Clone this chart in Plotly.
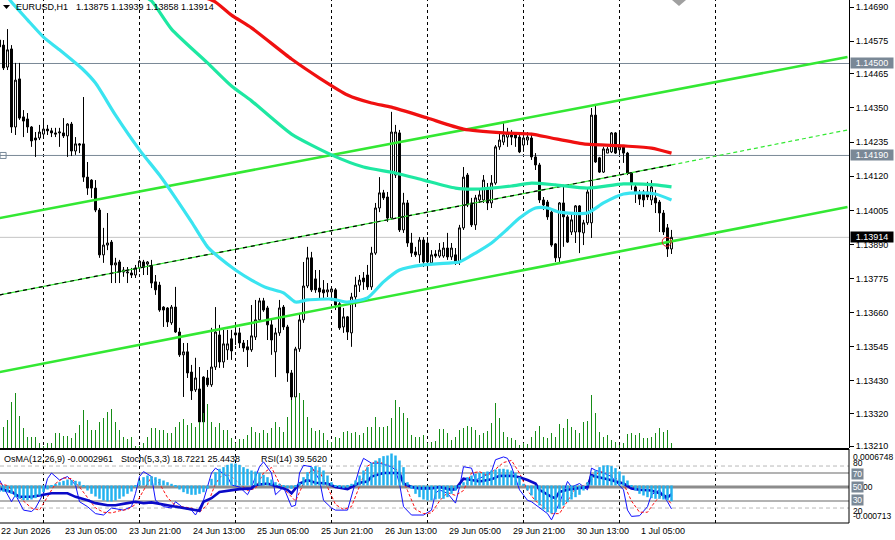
import plotly.graph_objects as go

# ---------------- data ----------------
bar_index = list(range(169))  # H1 bars from 22 Jun 13:00 to 1 Jul 13:00 (weekend skipped)

open_ = [1.14579,1.14562,1.14488,1.14549,1.14286,1.14448,1.14320,1.14313,1.14286,1.14249,
 1.14249,1.14262,1.14279,1.14273,1.14266,1.14266,1.14266,1.14256,1.14296,1.14205,
 1.14229,1.14229,1.14117,1.14107,1.14080,1.14006,1.13855,1.13888,1.13898,1.13821,
 1.13831,1.13804,1.13794,1.13794,1.13787,1.13811,1.13831,1.13824,1.13818,1.13764,
 1.13753,1.13679,1.13676,1.13626,1.13679,1.13595,1.13518,1.13528,1.13460,1.13400,
 1.13403,1.13443,1.13440,1.13417,1.13477,1.13585,1.13494,1.13535,1.13572,1.13592,
 1.13592,1.13558,1.13545,1.13535,1.13578,1.13636,1.13700,1.13676,1.13619,1.13528,
 1.13592,1.13679,1.13612,1.13457,1.13376,1.13538,1.13636,1.13750,1.13845,1.13774,
 1.13743,1.13737,1.13730,1.13730,1.13737,1.13690,1.13612,1.13646,1.13592,1.13713,
 1.13753,1.13777,1.13787,1.13747,1.13861,1.14013,1.14064,1.14050,1.13979,1.14124,
 1.14266,1.13939,1.14030,1.13895,1.13865,1.13855,1.13905,1.13895,1.13828,1.13858,
 1.13851,1.13851,1.13878,1.13848,1.13855,1.13831,1.13946,1.14124,1.14030,1.13956,
 1.14040,1.14040,1.14074,1.14030,1.14097,1.14219,1.14235,1.14252,1.14259,1.14259,
 1.14252,1.14225,1.14242,1.14249,1.14185,1.14158,1.14040,1.14033,1.13999,1.13892,
 1.13845,1.14030,1.13983,1.13932,1.13932,1.14020,1.13929,1.13963,1.13963,1.14326,
 1.14182,1.14134,1.14198,1.14202,1.14266,1.14209,1.14219,1.14198,1.14131,1.14084,
 1.14064,1.14067,1.14067,1.14040,1.14047,1.14033,1.13996,1.13946,1.13875]
high_ = [1.14586,1.14579,1.14616,1.14562,1.14502,1.14502,1.14343,1.14333,1.14289,1.14269,
 1.14293,1.14310,1.14293,1.14283,1.14283,1.14283,1.14316,1.14299,1.14303,1.14252,
 1.14232,1.14387,1.14168,1.14110,1.14107,1.14013,1.13946,1.13996,1.13905,1.13845,
 1.13838,1.13814,1.13814,1.13811,1.13821,1.13838,1.13838,1.13834,1.13838,1.13787,
 1.13764,1.13682,1.13679,1.13686,1.13747,1.13609,1.13558,1.13558,1.13484,1.13508,
 1.13477,1.13446,1.13467,1.13609,1.13679,1.13619,1.13602,1.13602,1.13602,1.13612,
 1.13609,1.13568,1.13568,1.13686,1.13703,1.13710,1.13710,1.13683,1.13636,1.13609,
 1.13703,1.13686,1.13619,1.13467,1.13545,1.13659,1.13831,1.13882,1.13865,1.13804,
 1.13804,1.13770,1.13760,1.13747,1.13743,1.13696,1.13676,1.13649,1.13727,1.13781,
 1.13787,1.13797,1.13821,1.13882,1.14030,1.14117,1.14074,1.14067,1.14337,1.14293,
 1.14276,1.14064,1.14040,1.13929,1.13882,1.13915,1.13915,1.13915,1.13871,1.13871,
 1.13895,1.13898,1.13929,1.13895,1.13878,1.13956,1.14151,1.14131,1.14047,1.14057,
 1.14074,1.14124,1.14097,1.14124,1.14225,1.14266,1.14299,1.14283,1.14276,1.14269,
 1.14266,1.14259,1.14269,1.14266,1.14198,1.14165,1.14050,1.14040,1.14006,1.13895,
 1.14033,1.14091,1.13989,1.13999,1.14023,1.14023,1.13973,1.14080,1.14350,1.14360,
 1.14185,1.14219,1.14219,1.14269,1.14269,1.14266,1.14225,1.14202,1.14134,1.14091,
 1.14074,1.14074,1.14101,1.14107,1.14074,1.14040,1.14006,1.13959,1.13939]
low_ = [1.14546,1.14478,1.14478,1.14266,1.14259,1.14310,1.14252,1.14266,1.14219,1.14185,
 1.14242,1.14249,1.14259,1.14252,1.14252,1.14219,1.14249,1.14185,1.14188,1.14192,
 1.14198,1.14101,1.14057,1.14047,1.13999,1.13845,1.13828,1.13871,1.13760,1.13760,
 1.13760,1.13781,1.13760,1.13777,1.13777,1.13797,1.13787,1.13787,1.13743,1.13720,
 1.13663,1.13612,1.13612,1.13619,1.13592,1.13511,1.13376,1.13440,1.13366,1.13393,
 1.13290,1.13290,1.13410,1.13410,1.13467,1.13474,1.13474,1.13501,1.13501,1.13551,
 1.13541,1.13528,1.13477,1.13528,1.13568,1.13629,1.13663,1.13568,1.13518,1.13443,
 1.13582,1.13602,1.13427,1.13332,1.13366,1.13528,1.13626,1.13743,1.13730,1.13727,
 1.13703,1.13703,1.13713,1.13703,1.13669,1.13602,1.13592,1.13568,1.13545,1.13679,
 1.13730,1.13737,1.13737,1.13737,1.13855,1.13999,1.14040,1.13966,1.13973,1.14114,
 1.13932,1.13929,1.13882,1.13848,1.13848,1.13828,1.13814,1.13804,1.13821,1.13845,
 1.13845,1.13845,1.13838,1.13838,1.13821,1.13821,1.13939,1.14016,1.13949,1.13939,
 1.14030,1.14030,1.14006,1.14013,1.14091,1.14209,1.14225,1.14219,1.14225,1.14219,
 1.14198,1.14202,1.14225,1.14175,1.14141,1.14030,1.14006,1.13973,1.13882,1.13831,
 1.13831,1.13882,1.13895,1.13922,1.13895,1.13861,1.13888,1.13956,1.13912,1.14165,
 1.14131,1.14131,1.14198,1.14198,1.14195,1.14192,1.14165,1.14124,1.14074,1.14030,
 1.14023,1.14016,1.14040,1.14023,1.13996,1.13932,1.13922,1.13848,1.13858]
close_ = [1.14556,1.14485,1.14546,1.14286,1.14444,1.14316,1.14306,1.14286,1.14239,1.14242,
 1.14269,1.14279,1.14273,1.14266,1.14262,1.14269,1.14256,1.14296,1.14205,1.14229,
 1.14225,1.14117,1.14080,1.14080,1.14006,1.13855,1.13888,1.13895,1.13821,1.13828,
 1.13797,1.13797,1.13797,1.13787,1.13811,1.13834,1.13814,1.13831,1.13760,1.13737,
 1.13669,1.13669,1.13629,1.13679,1.13595,1.13518,1.13528,1.13457,1.13397,1.13440,
 1.13292,1.13292,1.13417,1.13477,1.13595,1.13494,1.13555,1.13555,1.13531,1.13585,
 1.13558,1.13541,1.13535,1.13582,1.13636,1.13700,1.13669,1.13619,1.13568,1.13592,
 1.13676,1.13612,1.13457,1.13376,1.13538,1.13636,1.13750,1.13845,1.13737,1.13737,
 1.13730,1.13727,1.13737,1.13740,1.13686,1.13609,1.13646,1.13595,1.13713,1.13753,
 1.13770,1.13764,1.13747,1.13861,1.14013,1.14064,1.14047,1.13979,1.14269,1.14269,
 1.13939,1.14030,1.13895,1.13861,1.13855,1.13905,1.13831,1.13831,1.13855,1.13851,
 1.13871,1.13878,1.13848,1.13878,1.13828,1.13946,1.14117,1.14023,1.13956,1.14047,
 1.14057,1.14107,1.14030,1.14097,1.14219,1.14242,1.14259,1.14266,1.14252,1.14249,
 1.14202,1.14249,1.14252,1.14185,1.14158,1.14040,1.14023,1.13983,1.13888,1.13845,
 1.14030,1.13983,1.13898,1.13973,1.14020,1.13932,1.13963,1.14067,1.14326,1.14168,
 1.14134,1.14212,1.14212,1.14266,1.14198,1.14219,1.14198,1.14131,1.14097,1.14064,
 1.14043,1.14040,1.14050,1.14084,1.14030,1.13996,1.13932,1.13875,1.13914]

volume = [1800,2100,2800,4600,5500,3200,2000,1100,1100,1100,500,200,500,500,1500,1500,1200,1200,1000,1500,
 2300,3800,2800,1800,1800,2600,3000,3600,3900,2600,1800,1100,900,1100,200,200,500,1100,2000,2000,
 1800,1800,1500,1500,2100,2600,2900,2300,2500,2100,2600,3500,4400,2600,2100,2500,1800,1800,1000,500,
 900,900,1300,2100,1600,1500,1800,1500,2000,2600,2100,1600,3100,4800,5100,5500,4800,3100,2000,1700,
 1800,1500,800,600,1100,1000,1600,1700,1500,1600,1300,1500,2100,2100,3100,2100,2100,2200,3000,4800,
 4100,3500,3000,1300,1100,1100,1300,500,600,700,1900,1900,1500,800,1100,1800,2000,2200,2100,1800,
 1300,1500,1700,2500,4500,3000,1600,1100,1000,800,300,500,400,1100,1700,2200,1100,1000,1500,1100,
 2400,2000,2900,2100,1800,1500,2600,2700,5300,3500,1600,1100,1300,800,600,300,500,1400,1500,1300,
 1500,1000,1000,1100,1500,2000,1600,1800,500]

# moving averages (bar, value)
ma_fast_bars = [1,3,7,11,15,21,24,29,35,40,44,48,52,55,59,63,67,71,74,77,83,87,92,96,100,106,113,115,119,123,127,130,134,137,140,147,151,156,160,164,168]
ma_fast_vals = [1.14745,1.14707,1.14647,1.14589,1.14546,1.14478,1.14434,1.14326,1.14209,1.14124,1.14047,1.13966,1.13882,1.13845,1.13804,1.13770,1.13743,1.13727,1.13696,1.13703,1.13706,1.13696,1.13710,1.13764,1.13804,1.13821,1.13828,1.13831,1.13861,1.13895,1.13942,1.13979,1.14013,1.14013,1.13999,1.13996,1.14030,1.14060,1.14064,1.14060,1.14040]
ma_mid_bars = [36,38,43,52,58,63,73,83,91,99,106,114,120,128,133,139,147,156,164,168]
ma_mid_vals = [1.14727,1.14711,1.14616,1.14502,1.14424,1.14374,1.14262,1.14192,1.14151,1.14131,1.14107,1.14080,1.14077,1.14087,1.14097,1.14091,1.14080,1.14094,1.14091,1.14084]
ma_slow_bars = [51,54,58,63,73,80,87,93,98,107,116,126,133,138,146,156,163,168]
ma_slow_vals = [1.14724,1.14707,1.14663,1.14620,1.14515,1.14451,1.14394,1.14367,1.14353,1.14316,1.14279,1.14266,1.14262,1.14249,1.14229,1.14222,1.14215,1.14198]

# trend channel (bar, value)
channel_bars = [0, 212]
channel_upper = [1.13979, 1.14522]
channel_lower = [1.13460, 1.14016]
channel_mid_bars = [0, 168, 212]
channel_mid = [1.13720, 1.14158, 1.14276]

level_lines = [1.14500, 1.14190]
bid_price = 1.13914
alert_bar, alert_price = 166.8, 1.13899

price_ticks = [1.14690,1.14575,1.14465,1.14350,1.14235,1.14120,1.14005,1.13890,1.13775,1.13660,1.13545,1.13430,1.13320,1.13210]

day_bars = [11,35,59,83,107,131,155,179]
time_label_bars = [0.125,16,32,48,64,80,96,112,128,144,160]
time_labels = ["22 Jun 2026","23 Jun 05:00","23 Jun 21:00","24 Jun 13:00","25 Jun 05:00","25 Jun 21:00",
               "26 Jun 13:00","29 Jun 05:00","29 Jun 21:00","30 Jun 13:00","1 Jul 05:00"]

osma = [-0.000120,-0.000120,-0.000127,-0.000158,-0.000222,-0.000253,-0.000279,-0.000279,-0.000266,-0.000241,
 -0.000190,-0.000127,-0.000076,-0.000032,0.000032,0.000063,0.000089,0.000114,0.000101,0.000089,
 0.000076,-0.000032,-0.000095,-0.000158,-0.000209,-0.000253,-0.000285,-0.000304,-0.000304,-0.000285,
 -0.000253,-0.000209,-0.000158,-0.000114,-0.000032,0.000095,0.000158,0.000190,0.000177,0.000158,
 0.000127,0.000095,0.000063,0.000032,-0.000032,-0.000076,-0.000127,-0.000158,-0.000177,-0.000177,
 -0.000158,-0.000127,-0.000063,0.000127,0.000253,0.000317,0.000349,0.000393,0.000418,0.000418,
 0.000393,0.000349,0.000317,0.000285,0.000266,0.000241,0.000203,0.000158,0.000114,0.000063,
 0.000032,-0.000019,-0.000051,-0.000063,-0.000032,0.000051,0.000158,0.000253,0.000349,0.000368,
 0.000349,0.000285,0.000190,0.000063,-0.000019,-0.000038,-0.000051,-0.000038,0.000032,0.000095,
 0.000190,0.000285,0.000349,0.000431,0.000475,0.000520,0.000558,0.000570,0.000608,0.000570,
 0.000475,0.000349,0.000063,-0.000063,-0.000158,-0.000222,-0.000266,-0.000285,-0.000285,-0.000266,
 -0.000253,-0.000253,-0.000222,-0.000158,-0.000095,-0.000032,0.000063,0.000158,0.000190,0.000222,
 0.000241,0.000253,0.000266,0.000285,0.000304,0.000317,0.000317,0.000304,0.000285,0.000241,
 0.000158,0.000032,-0.000095,-0.000190,-0.000285,-0.000380,-0.000456,-0.000507,-0.000532,-0.000507,
 -0.000444,-0.000380,-0.000317,-0.000266,-0.000222,-0.000177,-0.000095,0.000063,0.000190,0.000285,
 0.000349,0.000380,0.000387,0.000368,0.000330,0.000266,0.000190,0.000095,-0.000032,-0.000095,
 -0.000158,-0.000190,-0.000222,-0.000241,-0.000253,-0.000253,-0.000266,-0.000279,-0.0002961]

stoch_main_bars = [0,1,3,4,6,8,9,11,12,13,15,17,19,20,22,24,26,28,31,33,34,35,36,38,39,41,43,44,46,48,49,51,53,54,57,58,60,62,63,65,66,68,69,71,73,74,75,76,78,80,81,83,84,87,88,90,91,93,95,98,99,100,101,103,106,108,109,110,112,114,115,116,118,119,121,123,124,126,127,128,130,132,133,135,137,138,140,142,143,145,147,148,149,151,153,154,156,157,158,160,162,163,165,167,168]
stoch_main_vals = [60,50,29,39,17,15,20,41,62,70,60,65,53,29,22,12,10,20,17,22,41,65,72,65,31,22,20,29,20,17,10,31,70,77,65,53,50,39,50,79,86,70,39,50,22,24,70,81,79,60,31,20,17,17,36,77,91,84,84,79,74,55,22,10,10,17,41,46,41,27,50,79,77,60,65,72,89,93,91,79,46,31,29,20,12,3,27,58,50,55,46,77,74,70,65,58,46,17,8,9,22,39,46,29,18.72]
stoch_sig_bars = [0,2,4,6,8,10,12,14,16,18,20,22,24,26,28,30,32,34,36,38,40,42,44,46,48,50,52,54,56,58,60,62,64,66,68,70,72,74,76,78,80,82,84,86,88,90,92,94,96,98,100,102,104,106,108,110,112,114,116,118,120,122,124,126,128,130,132,134,136,138,140,142,144,146,148,150,152,154,156,158,160,162,164,166,168]
stoch_sig_vals = [55,52,40,30,20,17,35,55,63,62,50,35,20,14,13,16,18,25,45,65,55,35,23,22,20,14,25,55,70,65,55,45,48,70,78,55,42,30,55,75,72,50,25,18,22,50,80,86,84,80,72,45,18,12,13,30,42,38,45,70,72,66,75,85,88,70,45,30,22,12,12,30,48,52,60,72,70,63,55,30,14,14,30,40,25.44]
rsi_bars = [0,3,5,8,11,13,17,19,22,24,27,29,32,34,36,38,42,44,47,49,50,51,53,55,58,60,63,64,67,69,72,73,75,77,79,82,84,87,88,90,92,93,96,98,100,101,103,105,108,110,113,114,116,118,120,123,125,128,130,132,134,135,138,139,140,142,144,147,148,149,152,154,156,158,160,163,165,167,168]
rsi_vals = [48,43,36,36,39,41,41,36,31,27,24,24,27,29,27,28,24,22,20,17,16,29,34,43,46,47,48,53,55,51,46,41,55,60,56,55,50,47,50,56,58,65,70,70,70,55,50,48,48,50,46,47,62,60,58,61,66,66,64,60,55,46,36,34,43,46,48,50,67,65,61,58,55,48,46,45,41,35,39.56]

# ---------------- geometry helpers (decoration only) ----------------
PLOT_R, PLOT_B = 849.0, 523.0
def xp(px): return px / PLOT_R
def yp(py): return (PLOT_B - py) / PLOT_B

FONT = "Liberation Sans, Arial, sans-serif"
fig = go.Figure()

# volumes (bottom of price window)
fig.add_trace(go.Bar(x=bar_index, y=volume, yaxis="y2", width=0.25,
                     marker=dict(color="#168c16", line=dict(width=0)), hoverinfo="skip"))

# trend channel
ch_green = "#33e833"
fig.add_trace(go.Scatter(x=channel_bars, y=channel_upper, mode="lines", line=dict(color=ch_green, width=2.6)))
fig.add_trace(go.Scatter(x=channel_bars, y=channel_lower, mode="lines", line=dict(color=ch_green, width=2.6)))
fig.add_trace(go.Scatter(x=channel_mid_bars[:2], y=channel_mid[:2], mode="lines", line=dict(color=ch_green, width=1.2)))
fig.add_trace(go.Scatter(x=channel_mid_bars[:2], y=channel_mid[:2], mode="lines", line=dict(color="black", width=1.2, dash="4px,4px")))
fig.add_trace(go.Scatter(x=channel_mid_bars[1:], y=channel_mid[1:], mode="lines", line=dict(color=ch_green, width=1.2, dash="4px,3px")))

# candles
fig.add_trace(go.Candlestick(x=bar_index, open=open_, high=high_, low=low_, close=close_,
                             increasing=dict(line=dict(color="black", width=1), fillcolor="white"),
                             decreasing=dict(line=dict(color="black", width=1), fillcolor="black"),
                             whiskerwidth=0, hoverinfo="skip"))

# moving averages
fig.add_trace(go.Scatter(x=ma_fast_bars, y=ma_fast_vals, mode="lines", line=dict(color="#3ae4f0", width=3.2, shape="spline", smoothing=0.6)))
fig.add_trace(go.Scatter(x=ma_mid_bars, y=ma_mid_vals, mode="lines", line=dict(color="#1ee8a2", width=3.2, shape="spline", smoothing=0.6)))
fig.add_trace(go.Scatter(x=ma_slow_bars, y=ma_slow_vals, mode="lines", line=dict(color="#f01010", width=3.2, shape="spline", smoothing=0.6)))

# alert marker
fig.add_trace(go.Scatter(x=[alert_bar], y=[alert_price], mode="markers",
                         marker=dict(symbol="circle-open", size=9, color="#e02020", line=dict(width=1))))
# left end marker of 1.14190 line
fig.add_trace(go.Scatter(x=[0.9], y=[level_lines[1]], mode="markers",
                         marker=dict(symbol="square-open", size=6, color="#778899", line=dict(width=1))))

# indicator window
fig.add_trace(go.Bar(x=bar_index, y=osma, yaxis="y4", width=0.62,
                     marker=dict(color="#22b2ef", line=dict(width=0)), hoverinfo="skip"))
fig.add_trace(go.Scatter(x=stoch_main_bars, y=stoch_main_vals, yaxis="y3", mode="lines",
                         line=dict(color="#1010ff", width=1)))
fig.add_trace(go.Scatter(x=stoch_sig_bars, y=stoch_sig_vals, yaxis="y3", mode="lines",
                         line=dict(color="#ff1010", width=1, dash="3px,2px")))
fig.add_trace(go.Scatter(x=rsi_bars, y=rsi_vals, yaxis="y3", mode="lines",
                         line=dict(color="#0a0ac8", width=2.6)))

shapes = []
for b in day_bars:
    shapes.append(dict(type="line", xref="x", yref="paper", x0=b, x1=b, y0=0, y1=1,
                       line=dict(color="black", width=1, dash="3px,3px"), layer="below"))
for lv in level_lines:
    shapes.append(dict(type="line", xref="paper", yref="y", x0=0, x1=1, y0=lv, y1=lv,
                       line=dict(color="#7a8896", width=1), layer="below"))
shapes.append(dict(type="line", xref="paper", yref="y", x0=0, x1=1, y0=bid_price, y1=bid_price,
                   line=dict(color="#c4c4c4", width=1), layer="below"))
# indicator levels
for lv, col, w, d in [(80, "#b8b8b8", 1, "4px,3px"), (20, "#b8b8b8", 1, "4px,3px"),
                      (70, "#9a9a9a", 1.5, "solid"), (30, "#9a9a9a", 1.5, "solid"),
                      (50, "#8c8c8c", 3, "solid")]:
    shapes.append(dict(type="line", xref="paper", yref="y3", x0=0, x1=1, y0=lv, y1=lv,
                       line=dict(color=col, width=w, dash=d), layer="below"))
# borders
shapes.append(dict(type="line", xref="paper", yref="paper", x0=0, x1=1, y0=yp(449), y1=yp(449),
                   line=dict(color="black", width=2)))
shapes.append(dict(type="line", xref="paper", yref="paper", x0=0, x1=1, y0=0, y1=0,
                   line=dict(color="black", width=1)))
shapes.append(dict(type="line", xref="paper", yref="paper", x0=1, x1=1, y0=0, y1=yp(449),
                   line=dict(color="black", width=1)))
# chart shift marker and title triangle
shapes.append(dict(type="path", xref="paper", yref="paper",
                   path=f"M {xp(672)},{yp(0)} L {xp(686)},{yp(0)} L {xp(679)},{yp(6)} Z",
                   fillcolor="#a0a0a0", line=dict(width=0)))
shapes.append(dict(type="path", xref="paper", yref="paper",
                   path=f"M {xp(3)},{yp(5)} L {xp(10)},{yp(5)} L {xp(6.5)},{yp(9)} Z",
                   fillcolor="black", line=dict(width=0)))

ann = []
def txt(x_px, text, y, yref, color="black", bg=None, width=None, xanchor="left", yanchor="middle", yshift=0, size=9):
    d = dict(xref="paper", x=xp(x_px), y=y, yref=yref, text=text, showarrow=False,
             xanchor=xanchor, yanchor=yanchor, yshift=yshift, borderpad=0,
             font=dict(family=FONT, size=size, color=color))
    if bg:
        d["bgcolor"] = bg
    if width:
        d["width"] = width
        d["align"] = "center"
    ann.append(d)

txt(15, "EURUSD,H1", yp(7), "paper")
txt(75, "1.13875 1.13939 1.13858 1.13914", yp(7), "paper")
txt(3, "OsMA(12,26,9) -0.0002961", yp(459), "paper")
txt(120, "Stoch(5,3,3) 18.7221 25.4438", yp(459), "paper")
txt(260, "RSI(14) 39.5620", yp(459), "paper")

for b, lab in zip(time_label_bars, time_labels):
    ann.append(dict(xref="x", x=b, yref="paper", y=0, yanchor="top", xanchor="left", yshift=-2,
                    text=lab, showarrow=False, borderpad=0, font=dict(family=FONT, size=9, color="black")))

# price boxes
txt(850, f"{level_lines[0]:.5f}", level_lines[0], "y", color="white", bg="#7a8896", width=42)
txt(850, f"{level_lines[1]:.5f}", level_lines[1], "y", color="white", bg="#7a8896", width=42)
txt(850, f"{bid_price:.5f}", bid_price, "y", color="white", bg="black", width=42)

# indicator scale labels (tightly stacked as in the terminal)
txt(852, "0.0006748", 0.0006748, "y4", yanchor="top", yshift=-1, size=8.5)
txt(852, "80", 80, "y3", yshift=3, size=8.5)
txt(851, "70", 70, "y3", color="white", bg="#7a8896", width=11, yshift=-1, size=8.5)
txt(862, "00", 50, "y3", size=8.5)
txt(851, "50", 50, "y3", color="white", bg="#7a8896", width=11, size=8.5)
txt(851, "30", 30, "y3", color="white", bg="#7a8896", width=11, yshift=1, size=8.5)
txt(852, "20", 20, "y3", yshift=-3, size=8.5)
txt(852, "-0.000713", -0.000713, "y4", yanchor="bottom", yshift=1, size=8.5)

fig.update_layout(
    width=895, height=540,
    margin=dict(l=0, r=895 - 849, t=0, b=540 - 523),
    paper_bgcolor="white", plot_bgcolor="white",
    showlegend=False, barmode="overlay",
    shapes=shapes, annotations=ann,
    font=dict(family=FONT, size=9, color="black"),
    xaxis=dict(range=[0.125, 212.375], domain=[0, 1], showgrid=False, zeroline=False,
               showticklabels=False, ticks="", rangeslider=dict(visible=False), fixedrange=True),
    yaxis=dict(domain=[yp(448), 1], range=[1.13204, 1.14714], side="right",
               tickvals=price_ticks, ticktext=[f"{v:.5f}" for v in price_ticks],
               ticks="outside", ticklen=4, tickcolor="black", showline=True, linecolor="black",
               linewidth=1, showgrid=False, zeroline=False,
               tickfont=dict(family=FONT, size=9, color="black"), automargin=False),
    yaxis2=dict(overlaying="y", range=[0, 44800], visible=False),
    yaxis3=dict(domain=[0, yp(450)], range=[-1.4, 102.9], visible=False, anchor="x"),
    yaxis4=dict(overlaying="y3", range=[-0.000713, 0.0006748], visible=False),
)

fig.write_html("out.html", config=dict(displayModeBar=False))
